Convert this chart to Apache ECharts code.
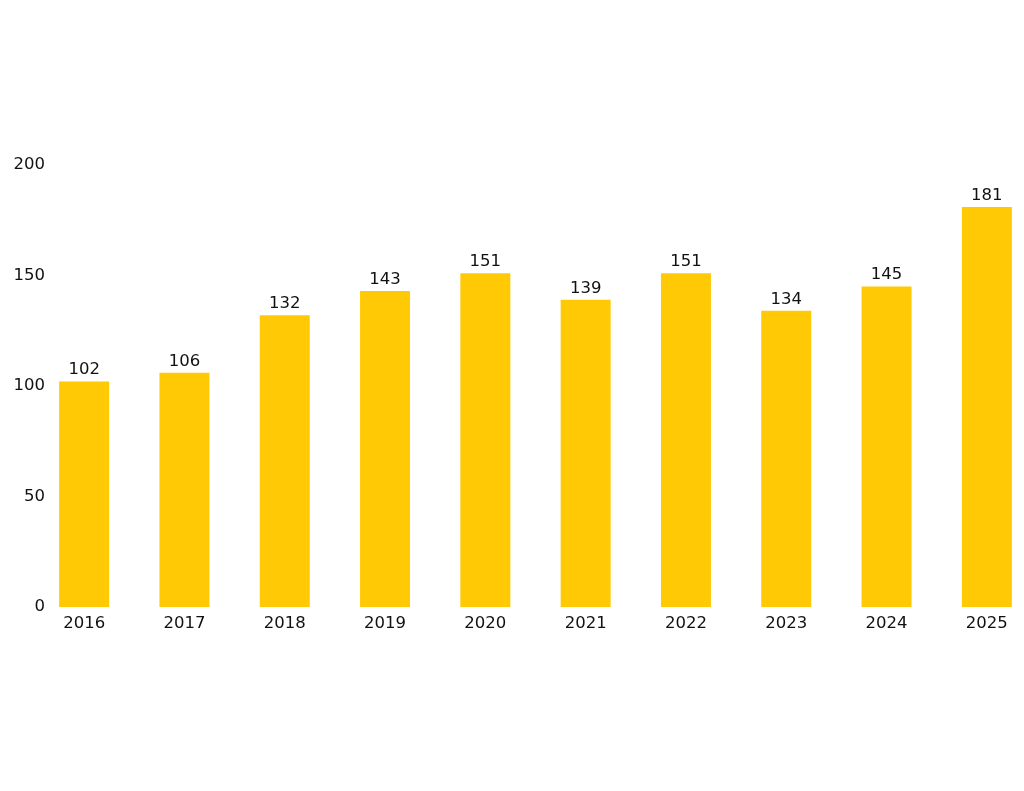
<!DOCTYPE html>
<html>
<head>
<meta charset="utf-8">
<script src="https://cdn.jsdelivr.net/npm/echarts@6/dist/echarts.min.js"></script>
<style>
html,body{margin:0;padding:0;background:#fff;overflow:hidden;}
#chart{width:1037px;height:791px;}
</style>
</head>
<body>
<div id="chart"></div>
<script>
const categories = ['2016','2017','2018','2019','2020','2021','2022','2023','2024','2025'];
const values = [102,106,132,143,151,139,151,134,145,181];
const yTicks = [0,50,100,150,200];

const FONT = '"DejaVu Sans", sans-serif';
const chart = echarts.init(document.getElementById('chart'));
chart.setOption({
  animation: false,
  backgroundColor: '#ffffff',
  grid: { left: 34, right: 0, top: 165, bottom: 184, containLabel: false },
  xAxis: {
    type: 'category',
    data: categories,
    axisLine: { show: false },
    axisTick: { show: false },
    axisLabel: { color: '#111111', fontSize: 16.5, fontFamily: FONT, margin: 8 }
  },
  yAxis: {
    type: 'value',
    min: yTicks[0],
    max: yTicks[yTicks.length - 1],
    interval: 50,
    splitLine: { show: false },
    axisLine: { show: false },
    axisTick: { show: false },
    axisLabel: { color: '#111111', fontSize: 16.5, fontFamily: FONT, margin: -11, align: 'right' }
  },
  series: [{
    type: 'bar',
    data: values,
    barWidth: 50,
    itemStyle: { color: '#FFCA05' },
    label: { show: true, position: 'top', distance: 3, color: '#111111', fontSize: 16.5, fontFamily: FONT }
  }]
});
</script>
</body>
</html>
